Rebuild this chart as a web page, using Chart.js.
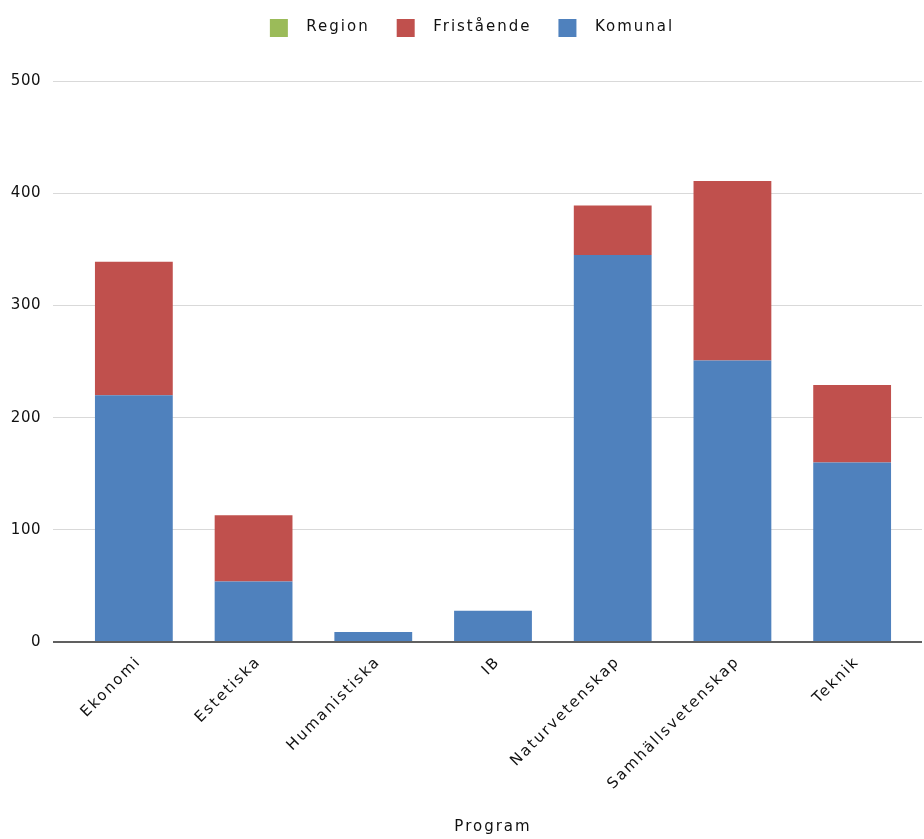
<!DOCTYPE html>
<html>
<head>
<meta charset="utf-8">
<script src="https://cdn.jsdelivr.net/npm/chart.js@4"></script>
<style>
  html, body { margin: 0; padding: 0; background: #ffffff; }
  #wrap { width: 924px; height: 839px; position: relative; }
</style>
</head>
<body>
<div id="wrap"><canvas id="c"></canvas></div>
<script>
const categories = ["Ekonomi", "Estetiska", "Humanistiska", "IB", "Naturvetenskap", "Samhällsvetenskap", "Teknik"];
const komunal    = [220, 54, 9, 28, 345, 251, 160];
const fristaende = [119, 59, 0, 0, 44, 160, 69];
const region     = [0, 0, 0, 0, 0, 0, 0];
const yTicks     = [0, 100, 200, 300, 400, 500];

const FONT = "'DejaVu Sans', sans-serif";
const TEXT = '#111111';
const SPACING = '2px';
const gridColor = ctx => (ctx.tick && ctx.tick.value === 0) ? '#606060' : '#d9d9d9';
const gridWidth = ctx => (ctx.tick && ctx.tick.value === 0) ? 2 : 1;

// legend swatch: 18px square with a transparent margin on its left
function swatch(color) {
  const c = document.createElement('canvas');
  c.width = 49; c.height = 18;
  const g = c.getContext('2d');
  g.fillStyle = color;
  g.fillRect(20, 0, 18, 18);
  return c;
}

const spacing = {
  id: 'spacing',
  beforeUpdate(chart) { chart.ctx.letterSpacing = SPACING; },
  beforeLayout(chart) { chart.ctx.letterSpacing = SPACING; },
  beforeDraw(chart) {
    chart.ctx.letterSpacing = SPACING;
    const ys = chart.scales.y;
    if (ys && !ys._patched) {
      const orig = ys.drawLabels.bind(ys);
      ys.drawLabels = function (area) {
        const ctx = this.ctx;
        const prev = ctx.letterSpacing;
        ctx.letterSpacing = '0.5px';
        orig(area);
        ctx.letterSpacing = prev;
      };
      ys._patched = true;
    }
  }
};

const legendGap = {
  id: 'legendGap',
  beforeInit(chart) {
    const lg = chart.legend;
    if (!lg) return;
    const fit = lg.fit;
    lg.fit = function () {
      fit.call(this);
      this.height += 36;
    };
  }
};

new Chart(document.getElementById('c'), {
  type: 'bar',
  data: {
    labels: categories,
    datasets: [
      { label: 'Komunal', data: komunal, backgroundColor: '#4F81BD', pointStyle: swatch('#4F81BD') },
      { label: 'Fristående', data: fristaende, backgroundColor: '#C0504D', pointStyle: swatch('#C0504D') },
      { label: 'Region', data: region, backgroundColor: '#9BBB59', pointStyle: swatch('#9BBB59') }
    ]
  },
  plugins: [spacing, legendGap],
  options: {
    responsive: true,
    maintainAspectRatio: false,
    animation: false,
    layout: { padding: { top: 13, bottom: 3, left: 0, right: 0 } },
    datasets: { bar: { barPercentage: 0.65, categoryPercentage: 1.0 } },
    plugins: {
      tooltip: { enabled: false },
      legend: {
        position: 'top',
        reverse: true,
        labels: {
          font: { family: FONT, size: 15 },
          color: TEXT,
          usePointStyle: true,
          pointStyleWidth: 49,
          boxWidth: 49,
          boxHeight: 16,
          padding: 7
        }
      }
    },
    scales: {
      x: {
        stacked: true,
        grid: { display: false },
        border: { display: false },
        ticks: {
          font: { family: FONT, size: 15 },
          color: TEXT,
          minRotation: 45,
          maxRotation: 45,
          padding: 3,
          labelOffset: 5,
          autoSkip: false
        },
        title: {
          display: true,
          text: 'Program',
          font: { family: FONT, size: 15 },
          color: TEXT,
          padding: { top: 22, bottom: 0 }
        }
      },
      y: {
        stacked: true,
        min: 0,
        max: 500,
        afterFit(scale) { scale.width = 74; },
        afterBuildTicks(scale) { scale.ticks = yTicks.map(v => ({ value: v })); },
        border: { display: false },
        grid: { color: gridColor, lineWidth: gridWidth, tickLength: 21 },
        ticks: {
          font: { family: FONT, size: 15 },
          color: TEXT,
          padding: 12
        }
      },
      y2: {
        position: 'right',
        min: 0,
        max: 500,
        afterFit(scale) { scale.width = 12; },
        afterBuildTicks(scale) { scale.ticks = yTicks.map(v => ({ value: v })); },
        border: { display: false },
        grid: { color: gridColor, lineWidth: gridWidth, tickLength: 10, drawOnChartArea: false },
        ticks: { display: false }
      }
    }
  }
});
</script>
</body>
</html>
